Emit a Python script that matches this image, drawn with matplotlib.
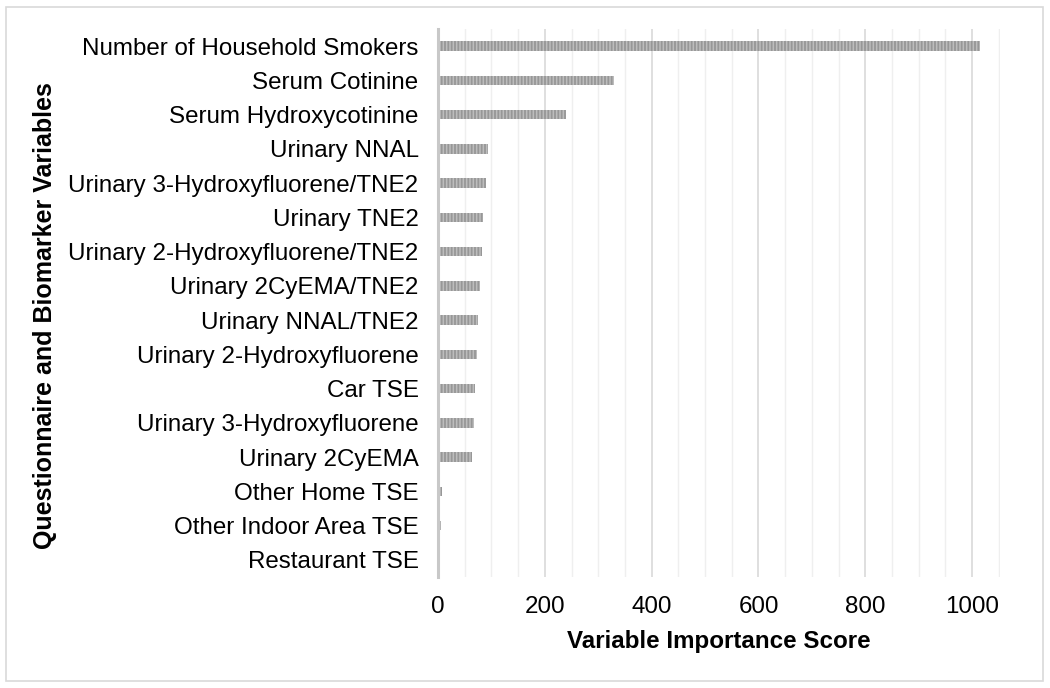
import numpy as np
from matplotlib import pyplot as plt
from matplotlib.patches import Rectangle

plt.rcParams['font.family'] = ['Liberation Sans', 'DejaVu Sans']
plt.rcParams['hatch.linewidth'] = 1.3

variables = [
    "Number of Household Smokers",
    "Serum Cotinine",
    "Serum Hydroxycotinine",
    "Urinary NNAL",
    "Urinary 3-Hydroxyfluorene/TNE2",
    "Urinary TNE2",
    "Urinary 2-Hydroxyfluorene/TNE2",
    "Urinary 2CyEMA/TNE2",
    "Urinary NNAL/TNE2",
    "Urinary 2-Hydroxyfluorene",
    "Car TSE",
    "Urinary 3-Hydroxyfluorene",
    "Urinary 2CyEMA",
    "Other Home TSE",
    "Other Indoor Area TSE",
    "Restaurant TSE",
]
scores = [1015, 330, 240, 93, 90, 84, 82, 78, 75, 74, 70, 67, 64, 7, 5, 1]
xticks = [0, 200, 400, 600, 800, 1000]

fig = plt.figure(figsize=(10.5, 6.88), dpi=100)
ax = fig.add_axes([0.4171, 0.1613, 0.5352, 0.7965])

y = np.arange(len(variables))
ax.barh(y, scores, height=0.28, color='#bdbdbd', edgecolor='#979797',
        hatch='|||||', linewidth=0, zorder=3)

ax.set_ylim(len(variables) - 0.5, -0.5)
ax.set_xlim(0, 1052)
ax.set_yticks(y)
ax.set_yticklabels(variables, fontsize=17.4)
ax.set_xticks(xticks)
ax.set_xticklabels([str(v) for v in xticks], fontsize=17.4)
ax.set_xticks(np.arange(0, 1051, 50), minor=True)
ax.tick_params(axis='both', length=0, pad=14)
ax.tick_params(axis='x', which='minor', length=0)
ax.grid(axis='x', which='major', color='#d9d9d9', linewidth=1.2, zorder=0)
ax.grid(axis='x', which='minor', color='#efefef', linewidth=1.0, zorder=0)
ax.set_axisbelow(True)

for s in ['top', 'right', 'bottom']:
    ax.spines[s].set_visible(False)
ax.spines['left'].set_color('#c8c8c8')
ax.spines['left'].set_linewidth(2.2)
ax.spines['left'].set_zorder(4)

ax.set_xlabel("Variable Importance Score", fontsize=17.4, fontweight='bold', labelpad=8)
ax.set_ylabel("Questionnaire and Biomarker Variables", fontsize=18, fontweight='bold',
              va='center')
ax.yaxis.set_label_coords(-0.699, 0.478)

fig.patches.append(Rectangle((6 / 1050, 7 / 688), 1037 / 1050, 674 / 688,
                             transform=fig.transFigure, fill=False,
                             edgecolor='#d9d9d9', linewidth=1.2))

plt.savefig('out.png', dpi=100)
